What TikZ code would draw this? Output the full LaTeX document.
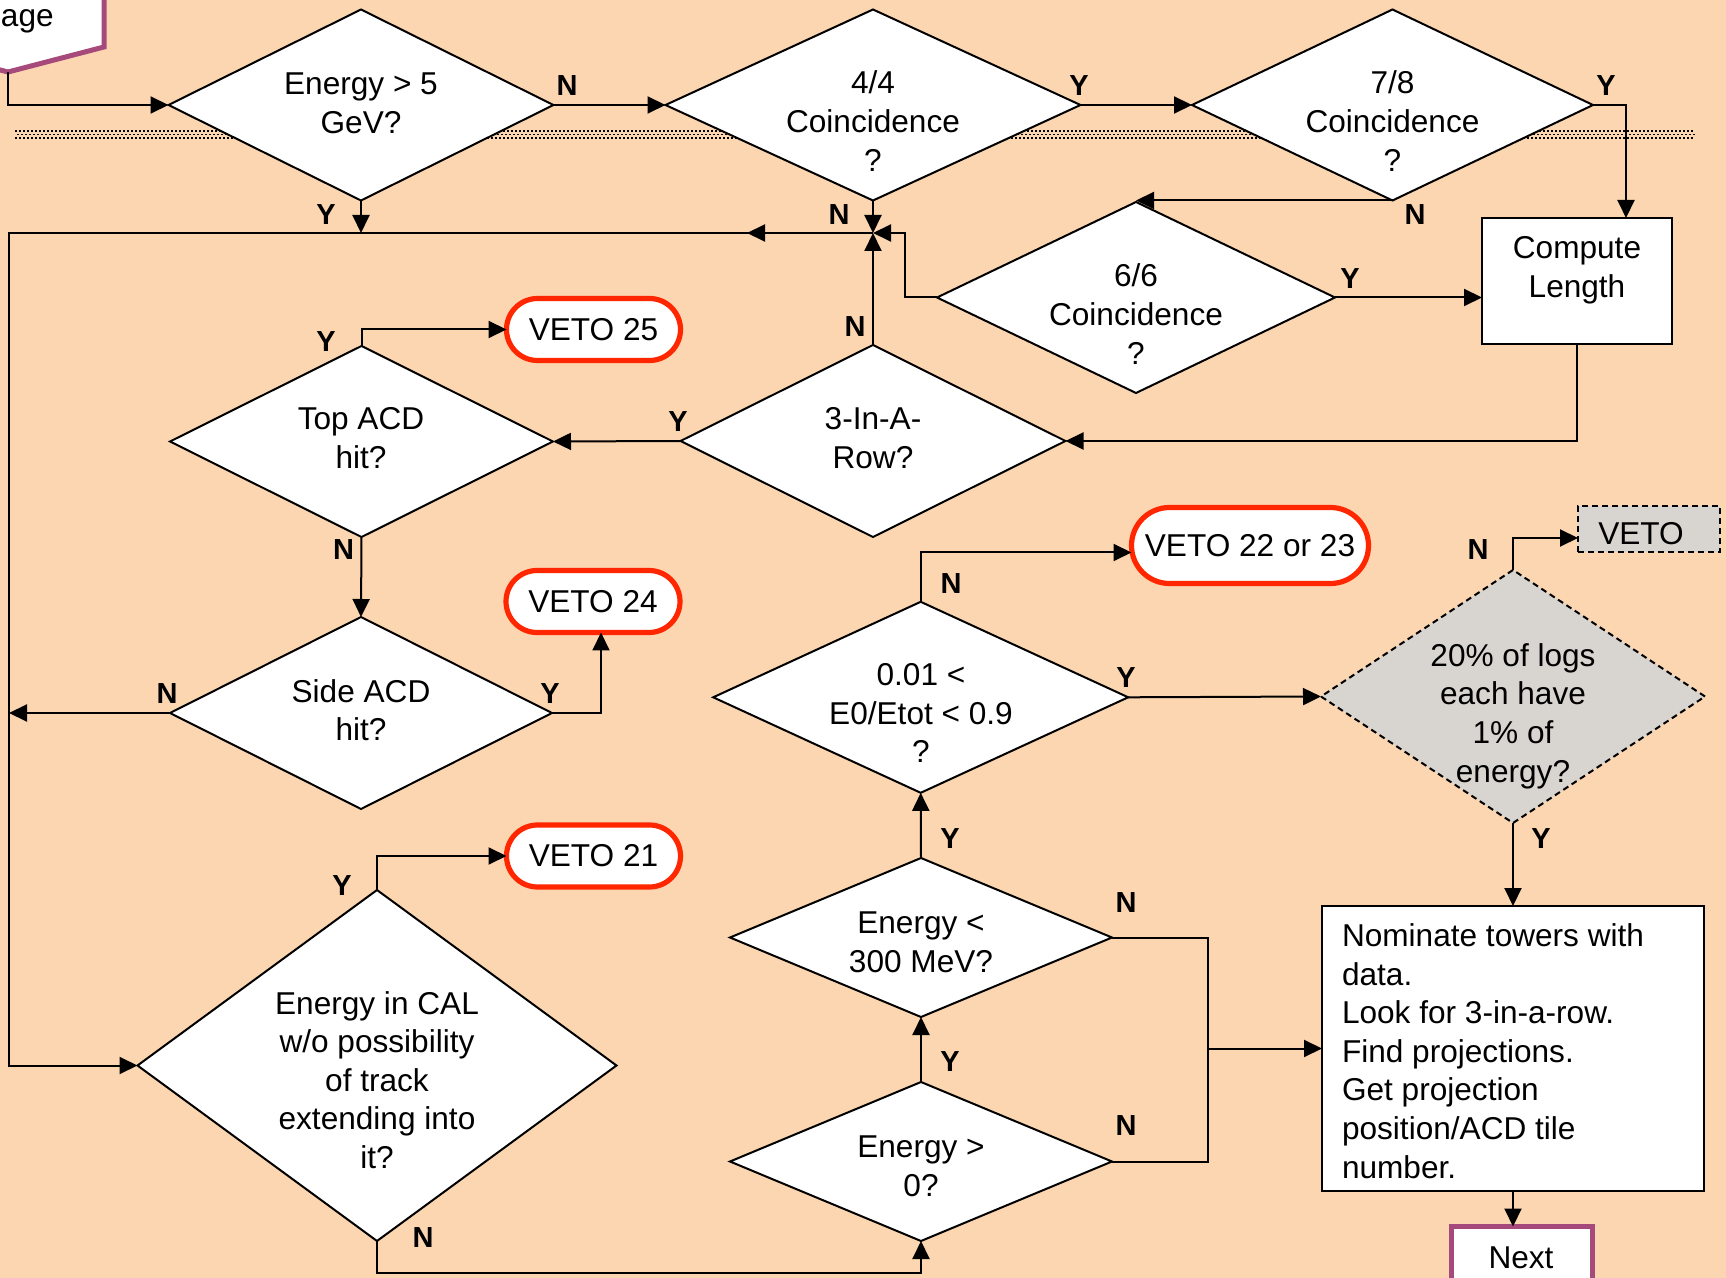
\documentclass[tikz,border=0pt]{standalone}
\usepackage{fontspec}
\setmainfont{Liberation Sans}
\usetikzlibrary{shapes.geometric,arrows.meta,calc}
\definecolor{bgpeach}{RGB}{252,214,176}
\definecolor{vetored}{RGB}{255,38,0}
\definecolor{offmag}{RGB}{166,74,124}
\definecolor{lgray}{RGB}{216,213,209}
\newcommand\mainfs{\fontsize{15.8}{19.3}\selectfont}
\newcommand\labfs{\bfseries\fontsize{14.5}{16}\selectfont}
\tikzset{
  dia/.style={diamond, draw, fill=white, inner sep=0pt, outer sep=0pt, line width=1pt},
  txt/.style={align=center, font=\mainfs, inner sep=0pt},
  lab/.style={font=\labfs, inner sep=0pt},
  veto/.style={draw=vetored, line width=2.6pt, fill=white, rounded corners=15.5pt, inner sep=0pt, outer sep=0pt, font=\mainfs, minimum width=87pt, minimum height=31pt},
  boxn/.style={draw, fill=white, inner sep=0pt, outer sep=0pt, line width=1pt},
  arr/.style={-{Triangle[length=9pt,width=8.5pt]}},
  hatch/.style={line width=0.8pt, dash pattern=on 1pt off 1pt}
}
\begin{document}
\begin{tikzpicture}[x=0.5pt,y=-0.5pt, line width=1pt]
\useasboundingbox (0,0) rectangle (1726,1278);
\begin{scope}
\clip (0,0) rectangle (1726,1278);
\fill[bgpeach] (0,0) rectangle (1726,1278);
% hatch band
\draw[hatch] (15,131) -- (1695,131);
\draw[hatch, dash phase=1pt] (15,134.5) -- (1695,134.5);
\draw[hatch] (15,138) -- (1695,138);

% off-page connector (top left)
\draw[draw=offmag, line width=2.5pt, fill=white] (-90,-10) -- (104,-10) -- (104,47) -- (8,72) -- (-88,47) -- cycle;
\node[font=\mainfs, anchor=base west, inner sep=0pt] (OPT) at (0,27) {age};
\coordinate (OP) at (8,72);

% diamonds
\node[dia, minimum width=192.5pt, minimum height=95.5pt] (D1) at (361,105) {};
\node[txt] (T1) at (361,103) {Energy > 5\\GeV?};
\node[dia, minimum width=207.5pt, minimum height=95.5pt] (D2) at (873,105) {};
\node[txt] (T2) at (873,121) {4/4\\Coincidence\\?};
\node[dia, minimum width=200.5pt, minimum height=95.5pt] (D3) at (1392.5,105) {};
\node[txt] (T3) at (1392.5,121) {7/8\\Coincidence\\?};
\node[dia, minimum width=199pt, minimum height=95.5pt] (D4) at (1136,297.5) {};
\node[txt] (T4) at (1136,314) {6/6\\Coincidence\\?};
\node[dia, minimum width=192.5pt, minimum height=96pt] (D5) at (873,441) {};
\node[txt] (T5) at (873,438) {3-In-A-\\Row?};
\node[dia, minimum width=191.5pt, minimum height=95.5pt] (D6) at (361.5,441.5) {};
\node[txt] (T6) at (361,438) {Top ACD\\hit?};
\node[dia, minimum width=191pt, minimum height=96pt] (D7) at (361,713) {};
\node[txt] (T7) at (361,710) {Side ACD\\hit?};
\node[dia, minimum width=239.5pt, minimum height=175.5pt] (D8) at (377,1065.5) {};
\node[txt] (T8) at (377,1080) {Energy in CAL\\w/o possibility\\of track\\extending into\\it?};
\node[dia, minimum width=207.5pt, minimum height=95.5pt] (D9) at (920.7,697.3) {};
\node[txt] (T9) at (921,713) {0.01 <\\E0/Etot < 0.9\\?};
\node[dia, minimum width=191pt, minimum height=79.5pt] (D10a) at (921,937.5) {};
\node[txt] (T10a) at (921,942) {Energy <\\300 MeV?};
\node[dia, minimum width=191pt, minimum height=79.5pt] (D10b) at (921,1161.5) {};
\node[txt] (T10b) at (921,1166) {Energy >\\0?};
\node[dia, dashed, dash pattern=on 3pt off 2pt, fill=lgray, minimum width=192pt, minimum height=126.5pt] (D11) at (1513,696.5) {};
\node[txt] (T11) at (1513,716) {20\% of logs\\each have\\1\% of\\energy?};

% boxes
\node[boxn, minimum width=95pt, minimum height=63pt] (CL) at (1577,281) {};
\node[txt] (TCL) at (1577,270) {Compute\\Length};
\node[boxn, minimum width=191pt, minimum height=142.5pt] (NB) at (1513,1048.5) {};
\node[font=\mainfs, align=left, inner sep=0pt, anchor=west] (TNB) at (1341,1051) {Nominate towers with\\data.\\Look for 3-in-a-row.\\Find projections.\\Get projection\\position/ACD tile\\number.};
\node[boxn, dashed, dash pattern=on 3pt off 2pt, fill=lgray, minimum width=71pt, minimum height=23pt] (VD) at (1649,529) {};
\node[font=\mainfs, inner sep=0pt] (TVD) at (1641,534) {VETO};
\node[draw=offmag, line width=2.5pt, fill=white, inner sep=0pt, outer sep=0pt, minimum width=70.5pt, minimum height=60pt] (NX) at (1522,1286.5) {};
\node[font=\mainfs, inner sep=0pt] (TNX) at (1521,1258) {Next};

% veto ovals
\node[veto] (V25) at (593.5,329.5) {VETO 25};
\node[veto] (V24) at (593,601.5) {VETO 24};
\node[veto] (V21) at (593.5,856) {VETO 21};
\node[veto, minimum width=118.5pt, minimum height=38pt, rounded corners=19pt] (V2223) at (1250,545.5) {VETO 22 or 23};

% junction points
\coordinate (J) at (873,233);
\coordinate (L1) at (9,233);
\coordinate (BR) at (1208,937.5);

% connectors
\draw[arr] (OP) |- (D1.west);
\draw[arr] (D1.east) -- (D2.west);
\draw[arr] (D2.east) -- (D3.west);
\draw[arr] (D3.east) -| ([xshift=24.5pt]CL.north);
\draw[arr] (D3.south) -- (D3.south -| D4.north);
\draw[arr] (D4.east) -- (D4.east -| CL.west);
\draw[arr] (CL.south) |- (D5.east);
\draw[arr] (D5.west) -- (D6.east);
\draw[arr] (D5.north) -- (J);
\draw[arr] (D2.south) -- (J);
\draw[arr] (D4.west) -| ([xshift=16pt]J) -- (J);
\draw[arr] (J) -- (L1) |- (D8.west);
\draw[arr] (J) -- ++(-126,0);
\draw[arr] (D1.south) -- (D1.south |- J);
\draw[arr] (D6.north) |- (V25.west);
\draw[arr] (D6.south) -- (D7.north);
\draw[arr] (D7.east) -| ([xshift=4pt]V24.south);
\draw[arr] (D7.west) -- (D7.west -| L1);
\draw[arr] (D8.north) |- (V21.west);
\draw[arr] (D8.south) -- ++(0,32) -| (D10b.south);
\draw[arr] (D10b.north) -- (D10a.south);
\draw[arr] (D10a.north) -- (D9.south);
\draw (D10a.east) -- (BR) |- (D10b.east);
\draw[arr] (NB.west -| BR) -- (NB.west);
\draw[arr] (D9.north) |- ([yshift=-3.5pt]V2223.west);
\draw[arr] (D9.east) -- (D11.west);
\draw[arr] (D11.north) |- ([yshift=-4.5pt]VD.west);
\draw[arr] (D11.south) -- (NB.north);
\draw[arr] (NB.south) -- (NB.south |- NX.north);

% Y / N labels
\node[lab] (l1) at (567,86) {N};
\node[lab] (l2) at (326,215) {Y};
\node[lab] (l3) at (1079,86) {Y};
\node[lab] (l4) at (839,215) {N};
\node[lab] (l5) at (1606,86) {Y};
\node[lab] (l6) at (1415,215) {N};
\node[lab] (l7) at (1350,278.5) {Y};
\node[lab] (l8) at (855,327) {N};
\node[lab] (l9) at (678,421.6) {Y};
\node[lab] (l10) at (326,342) {Y};
\node[lab] (l11) at (343.5,550) {N};
\node[lab] (l12) at (167,693.5) {N};
\node[lab] (l13) at (550,693.5) {Y};
\node[lab] (l14) at (342,886) {Y};
\node[lab] (l15) at (423,1238) {N};
\node[lab] (l16) at (951,584) {N};
\node[lab] (l17) at (1126,678) {Y};
\node[lab] (l18) at (950,839) {Y};
\node[lab] (l19) at (1126,903) {N};
\node[lab] (l20) at (950,1062) {Y};
\node[lab] (l21) at (1126,1126) {N};
\node[lab] (l22) at (1478,550) {N};
\node[lab] (l23) at (1541,839) {Y};
\end{scope}
\end{tikzpicture}
\end{document}
